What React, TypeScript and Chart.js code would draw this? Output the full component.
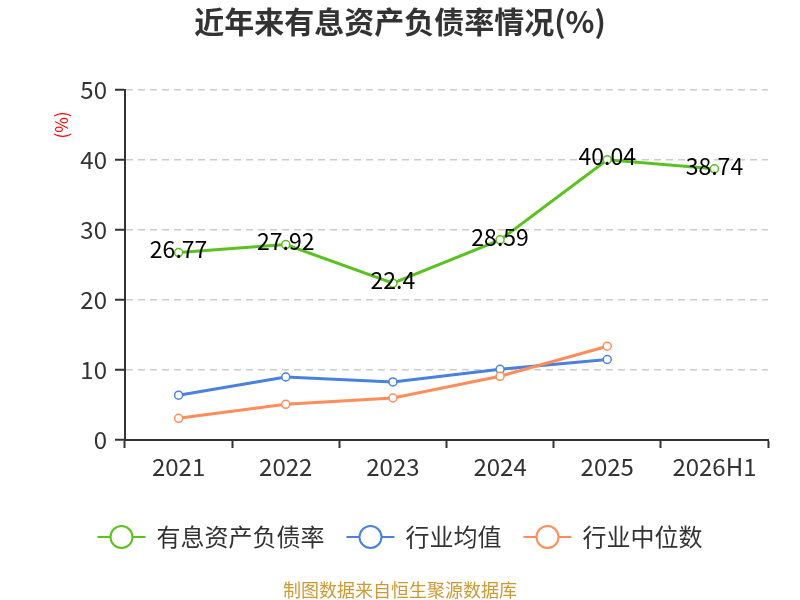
import React, { useRef, useEffect } from 'react';
import { Chart, registerables, Plugin } from 'chart.js';

Chart.register(...registerables);

const FONT = '"Noto Sans CJK SC", "Noto Sans", sans-serif';

const categories = ['2021', '2022', '2023', '2024', '2025', '2026H1'];
const debtRatio = [26.77, 27.92, 22.4, 28.59, 40.04, 38.74];
const industryAvg = [6.4, 9.0, 8.3, 10.1, 11.5, null];
const industryMedian = [3.1, 5.1, 6.0, 9.1, 13.4, null];
const seriesNames = ['有息资产负债率', '行业均值', '行业中位数'];
const seriesColors = ['#5ac21f', '#4a80e0', '#ff8c5a'];

const titleText = '近年来有息资产负债率情况(%)';
const unitText = '(%)';
const sourceText = '制图数据来自恒生聚源数据库';

const decorations: Plugin<'line'> = {
	id: 'decorations',
	afterDatasetsDraw(chart) {
		const ctx = chart.ctx;
		ctx.save();

		// value labels on the main series
		const meta = chart.getDatasetMeta(0);
		ctx.font = `23px ${FONT}`;
		ctx.fillStyle = '#000';
		ctx.textAlign = 'center';
		ctx.textBaseline = 'middle';
		meta.data.forEach((pt, i) => {
			ctx.fillText(String(debtRatio[i]), pt.x, pt.y - 3);
		});
		ctx.restore();
	},
	afterDraw(chart) {
		const ctx = chart.ctx;
		ctx.save();

		// title
		ctx.font = `bold 30px ${FONT}`;
		ctx.fillStyle = '#333';
		ctx.textAlign = 'center';
		ctx.textBaseline = 'middle';
		ctx.fillText(titleText, 400, 22);

		// unit label
		ctx.save();
		ctx.translate(62, 125);
		ctx.rotate(-Math.PI / 2);
		ctx.font = `17px ${FONT}`;
		ctx.fillStyle = '#ff0000';
		ctx.fillText(unitText, 0, 0);
		ctx.restore();

		// legend
		ctx.font = `24px ${FONT}`;
		ctx.textAlign = 'left';
		const iconW = 48;
		const gapText = 11;
		const gapItem = 22;
		const widths = seriesNames.map((n) => ctx.measureText(n).width);
		const total = widths.reduce((a, w) => a + iconW + gapText + w, 0) + gapItem * (seriesNames.length - 1);
		let x = 400 - total / 2;
		const ly = 537;
		seriesNames.forEach((name, i) => {
			ctx.strokeStyle = seriesColors[i];
			ctx.lineWidth = 2;
			ctx.beginPath();
			ctx.moveTo(x, ly);
			ctx.lineTo(x + iconW, ly);
			ctx.stroke();
			ctx.beginPath();
			ctx.arc(x + iconW / 2, ly, 11, 0, Math.PI * 2);
			ctx.fillStyle = '#fff';
			ctx.fill();
			ctx.stroke();
			ctx.fillStyle = '#333';
			ctx.fillText(name, x + iconW + gapText, ly);
			x += iconW + gapText + widths[i] + gapItem;
		});

		// source
		ctx.font = `18px ${FONT}`;
		ctx.fillStyle = '#cc9933';
		ctx.textAlign = 'center';
		ctx.fillText(sourceText, 400, 590);

		ctx.restore();
	},
};

const App: React.FC = () => {
	const chartRef = useRef<HTMLCanvasElement>(null);
	const chartInstance = useRef<Chart | null>(null);

	useEffect(() => {
		const ctx = chartRef.current?.getContext('2d');
		if (ctx) {
			const makeSet = (i: number, data: (number | null)[], order: number) => ({
				label: seriesNames[i],
				data,
				order,
				borderColor: seriesColors[i],
				backgroundColor: seriesColors[i],
				borderWidth: 3,
				pointRadius: 4,
				pointBorderWidth: 1.5,
				pointBackgroundColor: '#fff',
				pointBorderColor: seriesColors[i],
				tension: 0,
			});

			chartInstance.current = new Chart(ctx, {
				type: 'line',
				data: {
					labels: categories,
					datasets: [
						makeSet(0, debtRatio, 0),
						makeSet(1, industryAvg, 2),
						makeSet(2, industryMedian, 1),
					],
				},
				options: {
					responsive: true,
					maintainAspectRatio: false,
					animation: false,
					font: { family: FONT },
					layout: { padding: { top: 90, right: 32, bottom: 100, left: 0 } },
					plugins: {
						legend: { display: false },
						title: { display: false },
						tooltip: { enabled: false },
					},
					scales: {
						x: {
							offset: true,
							grid: {
								offset: true,
								drawOnChartArea: false,
								tickLength: 8,
								tickColor: '#333',
								tickWidth: 2,
							},
							border: { color: '#333', width: 2 },
							ticks: { font: { size: 24, family: FONT }, color: '#333', padding: 4 },
							afterFit: (s) => {
								s.height = 60;
							},
						},
						y: {
							min: 0,
							max: 50,
							ticks: { stepSize: 10, font: { size: 24, family: FONT }, color: '#333', padding: 8 },
							grid: {
								color: '#cccccc',
								lineWidth: 1.5,
								tickColor: '#333',
								tickLength: 10,
								tickWidth: 2,
							},
							border: { color: '#333', width: 2, dash: [7, 5] },
							afterFit: (s) => {
								s.width = 125;
							},
						},
					},
				},
				plugins: [decorations],
			});
		}

		return () => {
			chartInstance.current?.destroy();
		};
	}, []);

	return (
		<div style={{ position: 'fixed', left: 0, top: 0, width: 800, height: 600, background: '#fff' }}>
			<canvas ref={chartRef} />
		</div>
	);
};

export default App;
